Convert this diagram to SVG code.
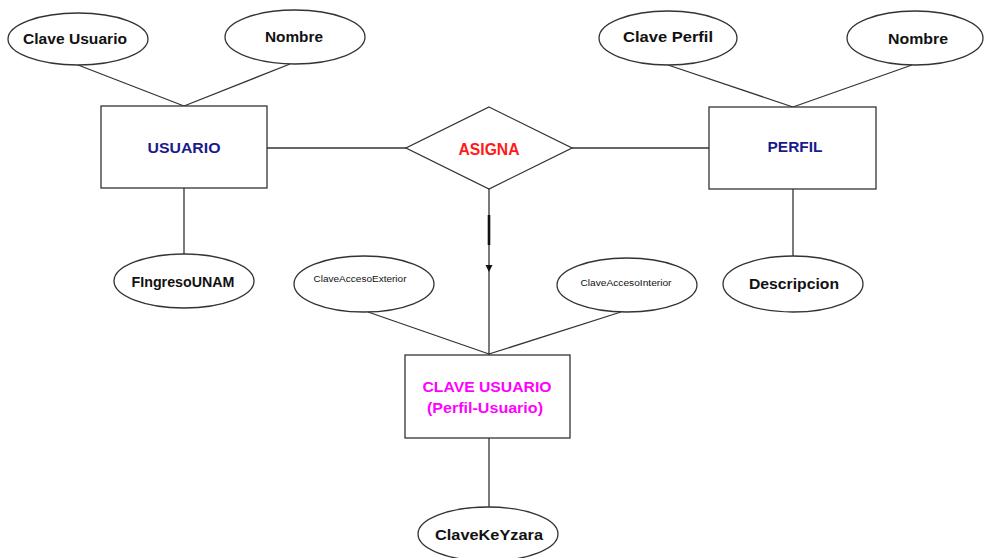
<svg xmlns="http://www.w3.org/2000/svg" width="987" height="558" viewBox="0 0 987 558">
  <style>
    .shape { fill: #ffffff; stroke: #333333; stroke-width: 1.3; }
    .link { stroke: #333333; stroke-width: 1.3; fill: none; }
    .attr { font-family: "Liberation Sans", Arial, sans-serif; font-weight: bold; font-size: 15px; fill: #111111; text-anchor: middle; }
    .small { font-family: "Liberation Sans", Arial, sans-serif; font-size: 8.5px; fill: #111111; text-anchor: middle; }
    .entity { font-family: "Liberation Sans", Arial, sans-serif; font-weight: bold; font-size: 15.5px; fill: #1a1a8c; text-anchor: middle; }
    .rel { font-family: "Liberation Sans", Arial, sans-serif; font-weight: bold; font-size: 16px; fill: #ff1a1a; text-anchor: middle; }
    .weak { font-family: "Liberation Sans", Arial, sans-serif; font-weight: bold; font-size: 15.5px; fill: #ff00ff; text-anchor: middle; }
  </style>
  <rect width="987" height="558" fill="#ffffff"/>

  <!-- connectors -->
  <g id="connectors">
    <line class="link" x1="78" y1="65" x2="184" y2="106"/>
    <line class="link" x1="290" y1="64" x2="184" y2="106"/>
    <line class="link" x1="184" y1="188" x2="184" y2="254"/>
    <line class="link" x1="267" y1="148" x2="406" y2="148"/>
    <line class="link" x1="572" y1="148" x2="709" y2="148"/>
    <line class="link" x1="668" y1="65" x2="793" y2="107"/>
    <line class="link" x1="912" y1="65" x2="793" y2="107"/>
    <line class="link" x1="793" y1="189" x2="793" y2="256"/>
    <line class="link" x1="489" y1="189" x2="489" y2="355"/>
    <line x1="489" y1="215" x2="489" y2="245" stroke="#111111" stroke-width="2.6"/>
    <polygon points="485.5,265 492.5,265 489,272" fill="#111111"/>
    <line class="link" x1="368" y1="312" x2="489" y2="354"/>
    <line class="link" x1="621" y1="312" x2="489" y2="354"/>
    <line class="link" x1="489" y1="438" x2="489" y2="507"/>
  </g>

  <!-- entity USUARIO and its attributes -->
  <g id="usuario">
    <rect class="shape" x="101" y="106" width="166" height="82"/>
    <text class="entity" x="184" y="153" textLength="73" lengthAdjust="spacingAndGlyphs">USUARIO</text>
  </g>
  <g id="attr-clave-usuario">
    <ellipse class="shape" cx="78" cy="39" rx="70" ry="26"/>
    <text class="attr" x="75" y="44" textLength="104" lengthAdjust="spacingAndGlyphs">Clave Usuario</text>
  </g>
  <g id="attr-nombre-usuario">
    <ellipse class="shape" cx="295" cy="37" rx="70" ry="27"/>
    <text class="attr" x="294" y="42" textLength="58" lengthAdjust="spacingAndGlyphs">Nombre</text>
  </g>
  <g id="attr-fingreso">
    <ellipse class="shape" cx="184" cy="281" rx="70" ry="27"/>
    <text class="attr" x="183" y="287" textLength="103" lengthAdjust="spacingAndGlyphs">FIngresoUNAM</text>
  </g>

  <!-- relationship ASIGNA -->
  <g id="asigna">
    <polygon class="shape" points="489,107 572,148 489,189 406,148"/>
    <text class="rel" x="489" y="155" textLength="61" lengthAdjust="spacingAndGlyphs">ASIGNA</text>
  </g>

  <!-- entity PERFIL and its attributes -->
  <g id="perfil">
    <rect class="shape" x="709" y="107" width="167" height="82"/>
    <text class="entity" x="795" y="152" textLength="55" lengthAdjust="spacingAndGlyphs">PERFIL</text>
  </g>
  <g id="attr-clave-perfil">
    <ellipse class="shape" cx="668" cy="38" rx="69" ry="27"/>
    <text class="attr" x="668" y="42" textLength="90" lengthAdjust="spacingAndGlyphs">Clave Perfil</text>
  </g>
  <g id="attr-nombre-perfil">
    <ellipse class="shape" cx="915" cy="38" rx="68" ry="27"/>
    <text class="attr" x="918" y="44" textLength="60" lengthAdjust="spacingAndGlyphs">Nombre</text>
  </g>
  <g id="attr-descripcion">
    <ellipse class="shape" cx="793" cy="284" rx="70" ry="28"/>
    <text class="attr" x="794" y="289" textLength="90" lengthAdjust="spacingAndGlyphs">Descripcion</text>
  </g>

  <!-- associative entity CLAVE USUARIO -->
  <g id="clave-usuario">
    <rect class="shape" x="405" y="355" width="165" height="83"/>
    <text class="weak" x="487" y="392" textLength="129" lengthAdjust="spacingAndGlyphs">CLAVE USUARIO</text>
    <text class="weak" x="485" y="413" textLength="116" lengthAdjust="spacingAndGlyphs">(Perfil-Usuario)</text>
  </g>
  <g id="attr-acceso-exterior">
    <ellipse class="shape" cx="364" cy="284" rx="70" ry="28"/>
    <text class="small" x="360" y="282" textLength="93" lengthAdjust="spacingAndGlyphs">ClaveAccesoExterior</text>
  </g>
  <g id="attr-acceso-interior">
    <ellipse class="shape" cx="627" cy="285" rx="70" ry="27"/>
    <text class="small" x="626" y="286" textLength="91" lengthAdjust="spacingAndGlyphs">ClaveAccesoInterior</text>
  </g>
  <g id="attr-clavekeyzara">
    <ellipse class="shape" cx="488" cy="534" rx="70" ry="27"/>
    <text class="attr" x="489" y="540" textLength="108" lengthAdjust="spacingAndGlyphs">ClaveKeYzara</text>
  </g>
</svg>
